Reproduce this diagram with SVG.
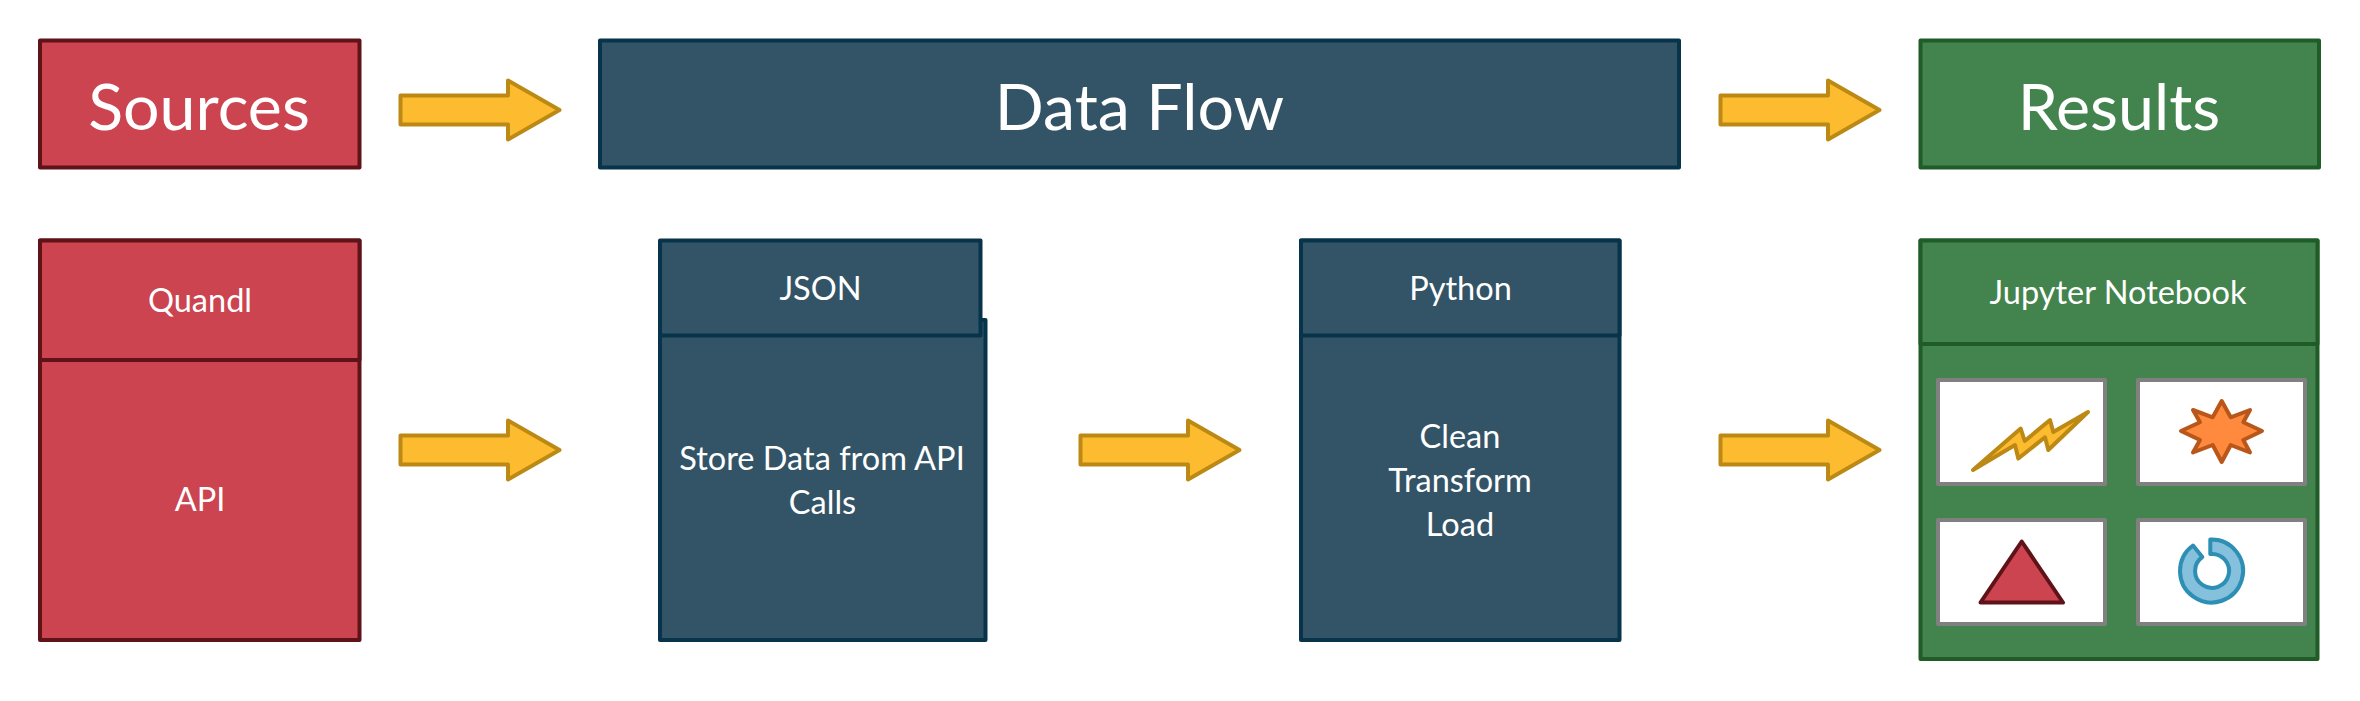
<svg xmlns="http://www.w3.org/2000/svg" width="2360" height="701" viewBox="0 0 2360 701">
<style>
text{font-family:Lato,"Open Sans","Liberation Sans",sans-serif;fill:#fff;text-anchor:middle}
.big{font-size:64.500px}.mid{font-size:32.500px}
rect,path,polygon{stroke-linejoin:round}
.red{fill:#CB444F;stroke:#5F1319;stroke-width:4}
.navy{fill:#335467;stroke:#07344A;stroke-width:4}
.green{fill:#43834D;stroke:#1F5C28;stroke-width:4}
.cell{fill:#fff;stroke:#808080;stroke-width:4}
.arrow{fill:#FDBB30;stroke:#BC8A14;stroke-width:4}
</style>
<defs><path id="arr" class="arrow" d="M0 -14.500H107.500V-29.500L159 0L107.500 29.500V14.500H0Z"/></defs>
<rect width="2360" height="701" fill="#fff"/>
<g id="sources"><rect class="red" x="40" y="40.500" width="319.500" height="127"/><text class="big" x="199" y="130">Sources</text></g>
<g id="dataflow"><rect class="navy" x="600" y="40.500" width="1079" height="127"/><text class="big" x="1139.500" y="130">Data Flow</text></g>
<g id="results"><rect class="green" x="1920.500" y="40.500" width="398.500" height="127"/><text class="big" x="2119" y="130">Results</text></g>
<g id="quandl"><rect class="red" x="40" y="240.500" width="319.500" height="399.500"/><rect class="red" x="40" y="240.500" width="319.500" height="119.500"/><text class="mid" x="200" y="312">Quandl</text><text class="mid" x="200" y="511">API</text></g>
<g id="json"><rect class="navy" x="660" y="320" width="325.500" height="320"/><rect class="navy" x="660" y="240.500" width="320.500" height="95"/><text class="mid" x="820.500" y="300">JSON</text><text class="mid" x="822" y="470">Store Data from API</text><text class="mid" x="822.500" y="514">Calls</text></g>
<g id="python"><rect class="navy" x="1301" y="240.500" width="318.500" height="399.500"/><rect class="navy" x="1301" y="240.500" width="318.500" height="95"/><text class="mid" x="1460.500" y="300">Python</text><text class="mid" x="1460" y="448">Clean</text><text class="mid" x="1460" y="492">Transform</text><text class="mid" x="1460" y="536">Load</text></g>
<g id="jupyter"><rect class="green" x="1920.500" y="240.500" width="397" height="418.500"/><rect class="green" x="1920.500" y="240.500" width="397" height="103.500"/><text class="mid" x="2118" y="304">Jupyter Notebook</text>
<rect class="cell" x="1938" y="380" width="167" height="104"/><rect class="cell" x="2138" y="380" width="167" height="104"/><rect class="cell" x="1938" y="520" width="167" height="104"/><rect class="cell" x="2138" y="520" width="167" height="104"/>
<polygon fill="#FDBB30" stroke="#BC8A14" stroke-width="4" points="1973,470 2020.700,428.500 2024.700,441 2050,420 2053.300,432 2088,412 2048.300,450 2045,437.300 2018.300,458.500 2015,445"/>
<polygon fill="#FF8A3D" stroke="#B9571A" stroke-width="4" points="2221.700,401 2230.700,417.300 2250,410 2243.300,422.300 2262,431 2243.300,440 2250,452.500 2230.700,445 2221.700,462 2212.700,445 2193,452.500 2200,440 2181,431 2200,422.300 2193,410 2212.700,417.300"/>
<polygon class="red" points="2021.700,541.500 2063,602.500 1980.500,602.500"/>
<path fill="#85C1DC" stroke="#2E8FB5" stroke-width="4" d="M2210.300 539.500A31.500 31.500 0 1 1 2193 545.500L2202.300 557A17 17 0 1 0 2210.300 554Z"/></g>
<g id="connectors">
<use href="#arr" x="400.500" y="110"/><use href="#arr" x="1720.500" y="110"/>
<use href="#arr" x="400.500" y="450"/><use href="#arr" x="1080.500" y="450"/><use href="#arr" x="1720.500" y="450"/>
</g>
</svg>
